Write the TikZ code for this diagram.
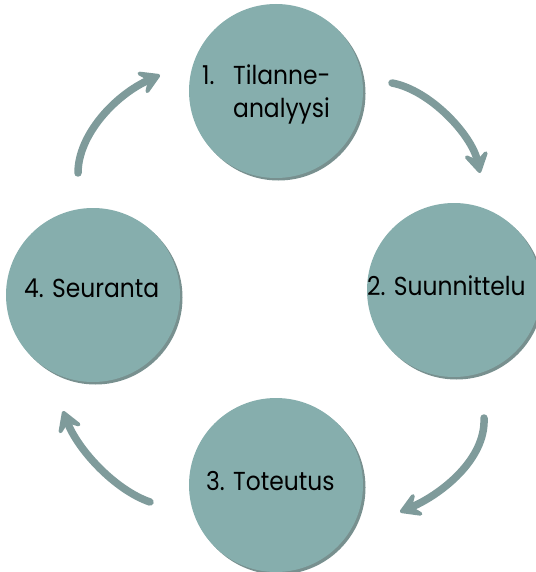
\documentclass[tikz,border=0pt]{standalone}
\usepackage{fontspec}
\setmainfont{Poppins}
\newfontfamily\stagefont[FakeStretch=0.9]{Poppins}
\usetikzlibrary{arrows.meta}
\definecolor{circfill}{HTML}{86AEAD}
\definecolor{circshade}{HTML}{78908F}
\definecolor{arrowcol}{HTML}{7F9B9B}
\tikzset{
  stage/.style={circle, fill=circfill, inner sep=0pt, minimum size=174pt},
  shade/.style={circle, fill=circshade, inner sep=0pt, minimum size=174pt},
  label/.style={font=\stagefont\fontsize{26}{30}\selectfont, text=black, anchor=base west, inner sep=0pt},
  cyc/.style={draw=arrowcol, line width=7.5pt, line cap=round,
    -{Stealth[length=27pt,width=32pt,inset=12pt,round]}},
}
\begin{document}
\begin{tikzpicture}[x=1pt,y=-1pt]
\useasboundingbox (0,0) rectangle (535,572);
% shadows
\node[shade] at (278.5,93.5) {};
\node[shade] at (456.5,292.5) {};
\node[shade] at (95.5,297.5) {};
\node[shade] at (278.5,487.5) {};
% circles
\node[stage] (s1) at (276,91) {};
\node[stage] (s2) at (454,290) {};
\node[stage] (s3) at (276,485) {};
\node[stage] (s4) at (93,295) {};
% labels
\node[label] (t1a) at (202,85) {1.};
\node[label] (t1b) at (233,85) {Tilanne-};
\node[label] (t1c) at (233,118) {analyysi};
\node[label] (t2) at (367,295) {2. Suunnittelu};
\node[label] (t3) at (206,490) {3. Toteutus};
\node[label] (t4) at (24,297) {4. Seuranta};
% arrow ends
\coordinate (a1s) at (392,83);
\coordinate (a1e) at (480,173);
\coordinate (a2s) at (484,418);
\coordinate (a2e) at (400,512);
\coordinate (a3s) at (150,502);
\coordinate (a3e) at (63,411);
\coordinate (a4s) at (78,173);
\coordinate (a4e) at (160,75);
\draw[cyc] (a1s) .. controls (430,90) and (472,135) .. (a1e);
\draw[cyc] (a2s) .. controls (486,460) and (440,495) .. (a2e);
\draw[cyc] (a3s) .. controls (115,490) and (78,450) .. (a3e);
\draw[cyc] (a4s) .. controls (78,135) and (115,95) .. (a4e);
\end{tikzpicture}
\end{document}
